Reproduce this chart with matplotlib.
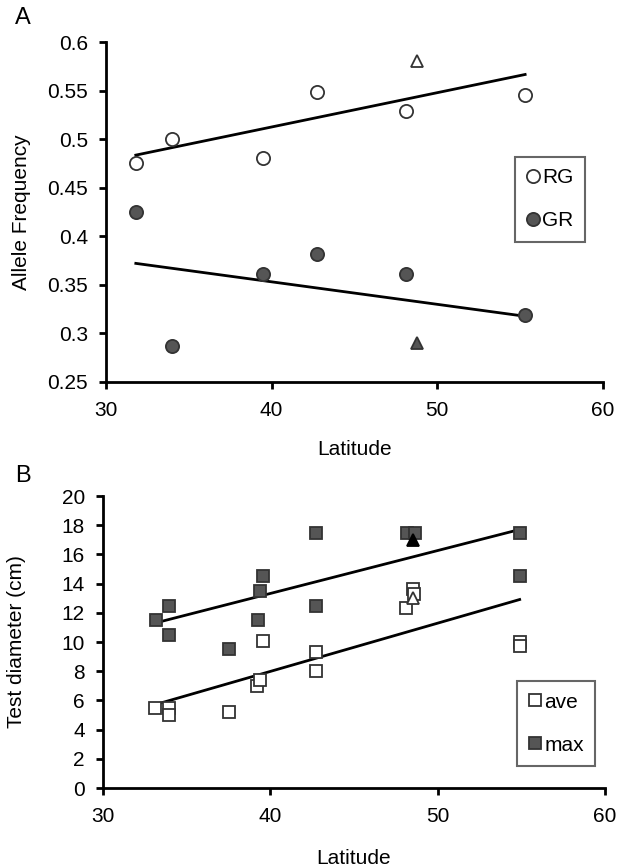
import numpy as np
import matplotlib
matplotlib.use("Agg")
import matplotlib.pyplot as plt
from matplotlib.lines import Line2D

plt.rcParams['font.family'] = ['Liberation Sans', 'DejaVu Sans']

# === Panel A data: allele frequency vs latitude ===
a_lat = [31.8, 34.0, 39.45, 42.75, 48.1, 55.3]
rg_freq = [0.475, 0.500, 0.481, 0.549, 0.529, 0.545]
gr_freq = [0.425, 0.287, 0.361, 0.382, 0.361, 0.319]
tri_lat = 48.8
rg_tri = 0.580
gr_tri = 0.290

# === Panel B data: test diameter vs latitude ===
max_lat = [33.17, 33.95, 33.95, 37.5, 39.25, 39.4, 39.55, 42.7, 42.7, 48.15, 48.65, 54.9, 54.9]
max_diam = [11.5, 12.5, 10.5, 9.5, 11.5, 13.5, 14.5, 17.5, 12.5, 17.5, 17.5, 17.5, 14.5]
ave_lat = [33.1, 33.95, 33.95, 37.5, 39.2, 39.4, 39.55, 42.7, 42.7, 48.1, 48.55, 48.6, 54.9, 54.9]
ave_diam = [5.5, 5.45, 5.0, 5.2, 7.0, 7.4, 10.1, 9.3, 8.0, 12.3, 13.6, 13.3, 10.0, 9.7]
btri_lat = 48.5
max_tri = 17.0
ave_tri = 13.0

dark = '#555555'
edge = '#333333'
fs = 15

def trend(ax, x, y):
    k, b = np.polyfit(x, y, 1)
    xs = np.array([min(x), max(x)])
    ax.plot(xs, k * xs + b, color='black', lw=2, zorder=1)

def style(ax):
    for s in ['top', 'right']:
        ax.spines[s].set_visible(False)
    for s in ['left', 'bottom']:
        ax.spines[s].set_linewidth(2)
    ax.tick_params(direction='out', length=5, width=2, labelsize=fs)
    ax.tick_params(axis='y', pad=8)
    ax.tick_params(axis='x', pad=9)

def legend(ax, handles, labels, anchor):
    leg = ax.legend(handles, labels, loc='upper left', bbox_to_anchor=anchor,
                    fontsize=fs, handlelength=0.6, handletextpad=0.15, borderpad=0.55,
                    labelspacing=1.15, fancybox=False, framealpha=1, borderaxespad=0)
    leg.get_frame().set_edgecolor('#666666')
    leg.get_frame().set_linewidth(1.5)

fig = plt.figure(figsize=(6.19, 8.68), dpi=100)

# === A ===
ax1 = fig.add_axes([106 / 619, 1 - 382 / 868, 497 / 619, 340 / 868])
trend(ax1, a_lat + [tri_lat], rg_freq + [rg_tri])
trend(ax1, a_lat + [tri_lat], gr_freq + [gr_tri])
ax1.plot(a_lat, rg_freq, 'o', ms=9.5, mfc='white', mec=edge, mew=1.3, ls='none', zorder=3)
ax1.plot(a_lat, gr_freq, 'o', ms=9.5, mfc=dark, mec=edge, mew=1.3, ls='none', zorder=3)
ax1.plot([tri_lat], [rg_tri], '^', ms=8.5, mfc='white', mec=edge, mew=1.3, zorder=3)
ax1.plot([tri_lat], [gr_tri], '^', ms=8.5, mfc=dark, mec=edge, mew=1.3, zorder=3)
ax1.set_xlim(30, 60)
ax1.set_ylim(0.25, 0.6)
ax1.set_xticks([30, 40, 50, 60])
ax1.set_yticks(np.arange(0.25, 0.601, 0.05))
ax1.set_yticklabels(['0.25', '0.3', '0.35', '0.4', '0.45', '0.5', '0.55', '0.6'])
ax1.set_xlabel('Latitude', fontsize=fs, va='center')
ax1.xaxis.set_label_coords(0.5, -0.2)
ax1.set_ylabel('Allele Frequency', fontsize=fs, va='center')
ax1.yaxis.set_label_coords(-0.171, 0.5)
style(ax1)
h1 = [Line2D([], [], marker='o', ls='none', ms=9.5, mfc='white', mec=edge, mew=1.3),
      Line2D([], [], marker='o', ls='none', ms=9.5, mfc=dark, mec=edge, mew=1.3)]
legend(ax1, h1, ['RG', 'GR'], (0.823, 0.662))

# === B ===
ax2 = fig.add_axes([103 / 619, 1 - 788 / 868, 502 / 619, 292 / 868])
trend(ax2, max_lat + [btri_lat], max_diam + [max_tri])
trend(ax2, ave_lat + [btri_lat], ave_diam + [ave_tri])
ax2.plot(ave_lat, ave_diam, 's', ms=9, mfc='white', mec=edge, mew=1.3, ls='none', zorder=3)
ax2.plot(max_lat, max_diam, 's', ms=9, mfc=dark, mec=edge, mew=1.3, ls='none', zorder=3)
ax2.plot([btri_lat], [max_tri], '^', ms=8.5, mfc='black', mec='black', mew=1.3, zorder=4)
ax2.plot([btri_lat], [ave_tri], '^', ms=8.5, mfc='white', mec=edge, mew=1.3, zorder=4)
ax2.set_xlim(30, 60)
ax2.set_ylim(0, 20)
ax2.set_xticks([30, 40, 50, 60])
ax2.set_yticks(np.arange(0, 21, 2))
ax2.set_xlabel('Latitude', fontsize=fs, va='center')
ax2.xaxis.set_label_coords(0.5, -0.24)
ax2.set_ylabel('Test diameter (cm)', fontsize=fs, va='center')
ax2.yaxis.set_label_coords(-0.173, 0.5)
style(ax2)
h2 = [Line2D([], [], marker='s', ls='none', ms=9, mfc='white', mec=edge, mew=1.3),
      Line2D([], [], marker='s', ls='none', ms=9, mfc=dark, mec=edge, mew=1.3)]
legend(ax2, h2, ['ave', 'max'], (0.825, 0.366))

fig.text(23 / 619, 1 - 18 / 868, 'A', fontsize=17, va='center', ha='center')
fig.text(23 / 619, 1 - 476 / 868, 'B', fontsize=17, va='center', ha='center')

fig.savefig('out.png', dpi=100)
